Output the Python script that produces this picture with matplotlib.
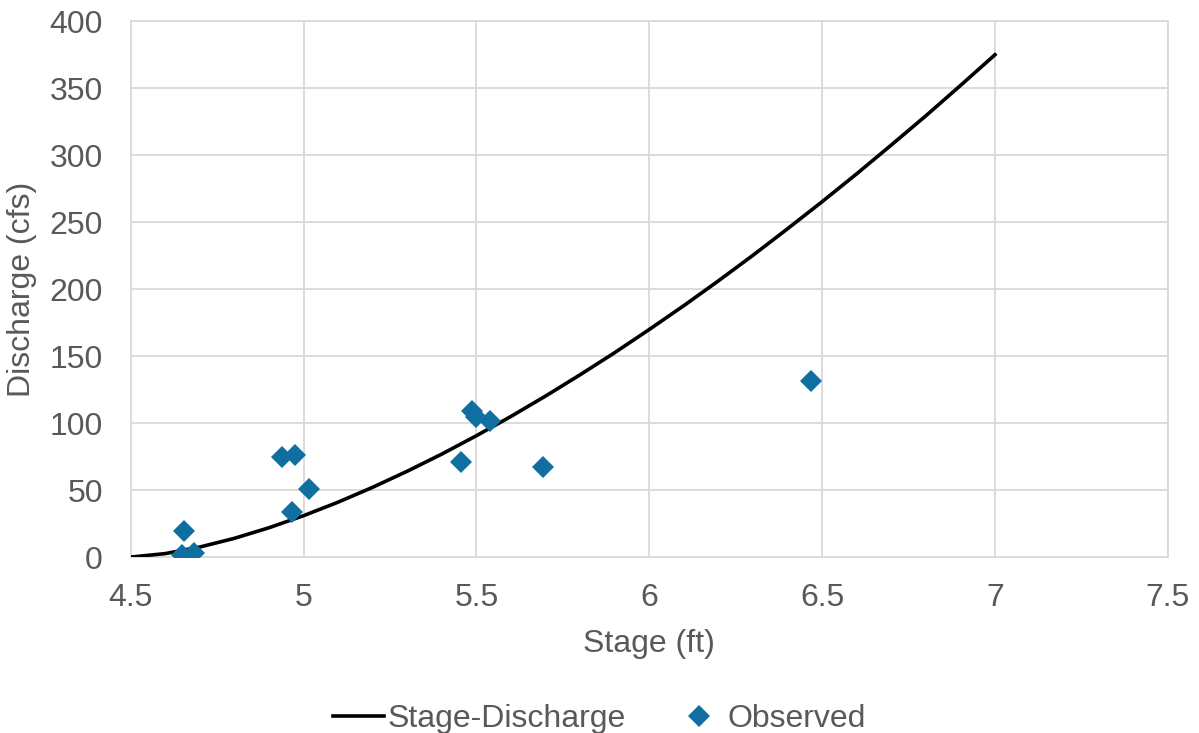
import numpy as np
import matplotlib
matplotlib.use('Agg')
import matplotlib.pyplot as plt

# Rating curve
stage_curve = [4.5, 4.6, 4.7, 4.8, 4.9, 5.0, 5.1, 5.2, 5.3, 5.4, 5.5, 5.6, 5.7,
               5.8, 5.9, 6.0, 6.1, 6.2, 6.3, 6.4, 6.5, 6.6, 6.7, 6.8, 6.9, 7.0]
discharge_curve = [0, 2.6, 7.5, 14.0, 21.9, 30.9, 41.0, 52.1, 64.1, 76.9, 90.6,
                   105.0, 120.2, 136.1, 152.6, 169.9, 187.7, 206.2, 225.3, 245.1,
                   265.3, 286.1, 307.6, 329.4, 352.0, 375.0]

# Observed measurements
stage_obs = [4.653, 4.648, 4.682, 4.937, 4.975, 4.966, 5.015, 5.456, 5.488,
             5.500, 5.540, 5.693, 6.469]
discharge_obs = [19.4, 1.5, 3.0, 74.8, 76.0, 33.6, 50.8, 71.0, 109.0,
                 104.7, 101.7, 67.0, 131.6]

text_col = '#595959'
grid_col = '#d9d9d9'
plt.rcParams['font.family'] = ['Liberation Sans', 'DejaVu Sans']

fig = plt.figure(figsize=(11.99, 7.33), dpi=100)
ax = fig.add_axes([0.109, 0.240, 0.865, 0.731])

ax.plot(stage_curve, discharge_curve, color='black', lw=2.6, label='Stage-Discharge', zorder=3)
ax.plot(stage_obs, discharge_obs, linestyle='', marker='D', markersize=11.5,
        color='#0f6fa0', markeredgewidth=0, label='Observed', zorder=4)

ax.set_xlim(4.5, 7.5)
ax.set_ylim(0, 400)
ax.set_xticks(np.arange(4.5, 7.51, 0.5))
ax.set_xticklabels(['4.5', '5', '5.5', '6', '6.5', '7', '7.5'])
ax.set_yticks(np.arange(0, 401, 50))
ax.grid(True, color=grid_col, lw=1.3)
ax.set_axisbelow(True)
for s in ax.spines.values():
    s.set_color(grid_col)
    s.set_linewidth(1.3)
ax.tick_params(length=0, labelsize=23, colors=text_col)
ax.tick_params(axis='x', pad=19)
ax.tick_params(axis='y', pad=20)

ax.set_xlabel('Stage (ft)', fontsize=23, color=text_col, labelpad=11)
ax.set_ylabel('Discharge (cfs)', fontsize=23, color=text_col, labelpad=9)

leg = fig.legend(loc='lower center', bbox_to_anchor=(0.5, -0.041), ncol=2, frameon=False,
                 fontsize=23, handlelength=1.6, handletextpad=0.1, columnspacing=1.5,
                 labelcolor=text_col)

fig.savefig('out.png', dpi=100)
